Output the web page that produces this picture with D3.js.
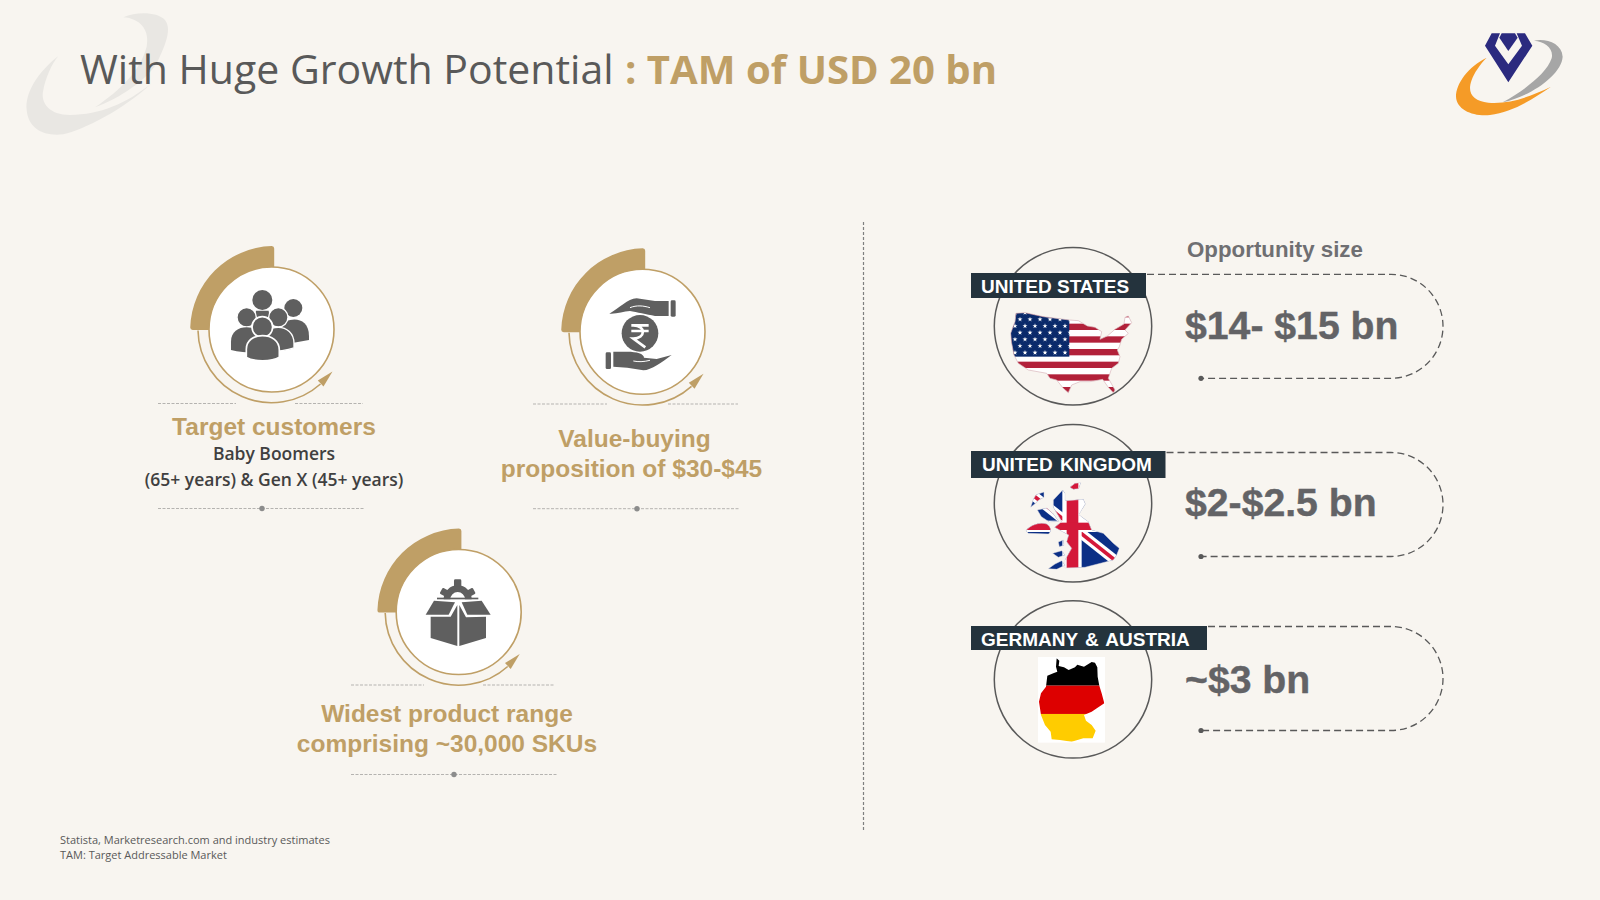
<!DOCTYPE html>
<html lang="en">
<head>
<meta charset="utf-8">
<title>TAM of USD 20 bn</title>
<script src="https://cdnjs.cloudflare.com/ajax/libs/d3/7.8.5/d3.min.js"></script>
<style>
html, body { margin: 0; padding: 0; background: #f8f5f0; }
svg { display: block; }
</style>
</head>
<body>
<div id="chart"></div>
<script>
// text and values
var titleGrey = "With Huge Growth Potential";
var titleGold = ": TAM of USD 20 bn";
var featureTitles = [["Target customers"], ["Value-buying", "proposition of $30-$45"], ["Widest product range", "comprising ~30,000 SKUs"]];
var featureNotes = [["Baby Boomers", "(65+ years) & Gen X (45+ years)"], [], []];
var marketNames = ["UNITED STATES", "UNITED KINGDOM", "GERMANY & AUSTRIA"];
var marketValues = ["$14- $15 bn", "$2-$2.5 bn", "~$3 bn"];
var opportunityLabel = "Opportunity size";
var footnotes = ["Statista, Marketresearch.com and industry estimates", "TAM: Target Addressable Market"];

// layout, kept apart from the values
var featureCx = [271.5, 642.5, 458.7];
var featureCy = [329.5, 331.8, 612];
var featureTextX = [[274], [634.5, 631.5], [447, 447]];
var featureTextY = [[435], [447, 477], [722, 751.5]];
var noteY = [460, 486];
var topDash = [[158, 236, 295, 363, 403.5], [533, 607, 668, 738, 404], [351, 424, 483, 555, 685]];
var lowDash = [[158, 365, 262, 508.5], [533, 740, 637, 508.7], [351, 557, 454, 774.5]];
var marketCy = [326.3, 503.3, 679.4];
var tagRight = [1146, 1165.5, 1207];
var tagTop = [273, 451, 626];
var tagBottom = [298, 478, 650];
var tagBase = [292.7, 471, 645.5];
var tagTextX = [981, 982, 981];
var tagWordGap = [0, 2, 2];
var pillTop = [274.3, 452.5, 626.5];
var valueBase = [339, 516, 693];

var gold = "#bf9f66", ink = "#5f5f5f", navy = "#24333d";

var svg = d3.select("#chart").append("svg").attr("width", 1600).attr("height", 900);
var defs = svg.append("defs");
svg.append("rect").attr("width", 1600).attr("height", 900).attr("fill", "#f8f5f0");

// watermark swoosh behind the title
var mark = svg.append("g").attr("transform", "translate(10,0) scale(0.3333)").attr("fill", "#e9e7e3");
mark.append("path").attr("d", "M145,168 C80,220 45,280 50,330 C55,385 100,410 160,403 C220,390 340,330 425,250 C350,310 270,345 180,345 C120,345 90,310 100,270 C105,240 125,190 145,168 Z");
mark.append("path").attr("d", "M340,52 C380,35 440,35 465,60 C485,85 470,130 440,190 C410,240 330,295 255,322 C330,270 390,215 410,140 C420,90 390,55 340,52 Z");

// title
svg.append("text").attr("x", 80).attr("y", 84)
  .attr("font-family", "'Open Sans'").attr("font-size", 41).attr("fill", "#595959")
  .text(titleGrey);
svg.append("text").attr("x", 625).attr("y", 84)
  .attr("font-family", "'Open Sans'").attr("font-weight", 700).attr("font-size", 40.1).attr("fill", gold)
  .text(titleGold);

// logo top right
var logo = svg.append("g").attr("transform", "translate(1450,25) scale(0.3333)");
logo.append("path").attr("fill", "#a6a6a6").attr("d", "M252,47 C290,40 335,55 338,95 C335,150 240,215 158,232 C225,195 290,145 305,100 C312,70 285,50 252,47 Z");
logo.append("path").attr("fill", "#f59b27").attr("d", "M110,98 C55,125 18,175 18,215 C20,255 70,275 120,270 C185,262 245,225 303,185 C240,215 180,238 115,233 C70,228 50,205 65,165 C72,145 90,118 110,98 Z");
logo.append("path").attr("fill", "#2b2a7f").attr("d", "M125,25 H150 L135,62 L175,118 L216,62 L200,25 H225 L247,62 L175,172 L105,62 Z");
logo.append("path").attr("fill", "#2b2a7f").attr("d", "M155,25 H195 L203,38 L175,78 L148,38 Z");

// divider
svg.append("line").attr("x1", 863.5).attr("x2", 863.5).attr("y1", 222).attr("y2", 830)
  .attr("stroke", "#7f7f7f").attr("stroke-width", 1.2).attr("stroke-dasharray", "3 2");

// left side: three feature badges
var badgeArc = d3.arc().innerRadius(55).outerRadius(84).startAngle(-Math.PI / 2).endAngle(0).cornerRadius(2.5);

var feature = svg.selectAll("g.feature").data(featureTitles).join("g").attr("class", "feature");

feature.each(function(lines, i) {
  var g = d3.select(this);
  var cx = featureCx[i], cy = featureCy[i];

  // thin ring running round to the arrow
  g.append("path").attr("fill", "none").attr("stroke", gold).attr("stroke-width", 1.6)
    .attr("d", "M" + (cx - 73.5) + "," + (cy + 1) + " A73.5,73.5 0 0 0 " + (cx + 49) + "," + (cy + 54.5));
  g.append("path").attr("fill", gold)
    .attr("d", "M" + (cx + 61) + "," + (cy + 42) + " l-14.7,9 l5.7,6 Z");

  g.append("path").attr("transform", "translate(" + (cx + 2.7) + "," + (cy + 0.5) + ")")
    .attr("d", badgeArc).attr("fill", gold);
  g.append("circle").attr("cx", cx).attr("cy", cy).attr("r", 62.5)
    .attr("fill", "#fff").attr("stroke", gold).attr("stroke-width", 1.6);

  // dashed rules above and below the text
  var td = topDash[i], ld = lowDash[i];
  [[td[0], td[1]], [td[2], td[3]]].forEach(function(p) {
    g.append("line").attr("x1", p[0]).attr("x2", p[1]).attr("y1", td[4]).attr("y2", td[4])
      .attr("stroke", "#b5b3b0").attr("stroke-width", 1).attr("stroke-dasharray", "3 1.5");
  });
  g.append("line").attr("x1", ld[0]).attr("x2", ld[1]).attr("y1", ld[3]).attr("y2", ld[3])
    .attr("stroke", "#b5b3b0").attr("stroke-width", 1).attr("stroke-dasharray", "3 1.5");
  g.append("circle").attr("cx", ld[2]).attr("cy", ld[3]).attr("r", 2.7).attr("fill", "#8c8c8c");

  g.selectAll("text.head").data(lines).join("text").attr("class", "head")
    .attr("x", function(d, j) { return featureTextX[i][j]; })
    .attr("y", function(d, j) { return featureTextY[i][j]; })
    .attr("text-anchor", "middle")
    .attr("font-family", "'Liberation Sans'").attr("font-weight", 700).attr("font-size", 24.5)
    .attr("fill", gold).text(function(d) { return d; });

  g.selectAll("text.note").data(featureNotes[i]).join("text").attr("class", "note")
    .attr("x", 274).attr("y", function(d, j) { return noteY[j]; })
    .attr("text-anchor", "middle")
    .attr("font-family", "'Open Sans'").attr("font-weight", 600).attr("font-size", 17.5)
    .attr("fill", "#404040").text(function(d) { return d; });
});

// people icon
var people = svg.append("g").attr("transform", "translate(130,230) scale(0.3333)").attr("fill", ink);
var bodyEdge = "#fff";
people.append("circle").attr("cx", 397).attr("cy", 210).attr("r", 30);
people.append("path").attr("d", "M378,242 H416 L420,270 H374 Z");
people.append("circle").attr("cx", 490).attr("cy", 234).attr("r", 27);
people.append("path").attr("d", "M450,290 C470,260 537,255 537,318 V330 L470,342 Z");
people.append("circle").attr("cx", 350).attr("cy", 262).attr("r", 29).attr("stroke", bodyEdge).attr("stroke-width", 4);
people.append("path").attr("d", "M303,360 V335 C303,305 325,292 350,292 C375,292 400,305 400,335 V368 C365,368 330,368 303,360 Z");
people.append("circle").attr("cx", 445).attr("cy", 262).attr("r", 29).attr("stroke", bodyEdge).attr("stroke-width", 4);
people.append("path").attr("d", "M395,330 C395,305 420,292 445,292 C470,292 492,310 492,340 V354 C470,362 440,365 410,365 Z").attr("stroke", bodyEdge).attr("stroke-width", 4);
people.append("circle").attr("cx", 397).attr("cy", 291).attr("r", 31).attr("stroke", bodyEdge).attr("stroke-width", 5);
people.append("path").attr("d", "M349,382 V358 C349,330 372,317 397,317 C425,317 448,332 448,360 V382 C425,396 370,396 349,382 Z").attr("stroke", bodyEdge).attr("stroke-width", 5);

// hands and rupee icon
var hands = svg.append("g").attr("transform", "translate(540,235) scale(0.3333)").attr("fill", ink);
hands.append("path").attr("d", "M208,236 C240,218 262,192 290,190 L345,198 L386,198 V243 L345,243 C320,238 290,232 270,228 C250,228 230,238 208,236 Z");
hands.append("path").attr("d", "M270,218 C290,210 310,212 330,218").attr("fill", "none").attr("stroke", "#fff").attr("stroke-width", 3);
hands.append("rect").attr("x", 392).attr("y", 196).attr("width", 15).attr("height", 49).attr("rx", 4);
hands.append("circle").attr("cx", 300).attr("cy", 295).attr("r", 55);
hands.append("path").attr("fill", "none").attr("stroke", "#fff").attr("stroke-width", 8)
  .attr("d", "M274,271 H326 M274,288 H326 M280,271 C318,271 318,311 280,311 L316,337");
hands.append("rect").attr("x", 197).attr("y", 352).attr("width", 16).attr("height", 50).attr("rx", 4);
hands.append("path").attr("d", "M220,350 L262,350 C290,350 312,356 312,368 L350,372 L395,360 C365,382 335,405 310,406 L262,398 L220,395 Z");
hands.append("path").attr("d", "M280,378 C295,381 310,381 330,376").attr("fill", "none").attr("stroke", "#fff").attr("stroke-width", 3);

// box and gear icon
var box = svg.append("g").attr("transform", "translate(360,510) scale(0.3333)").attr("fill", ink);
var gear = box.append("g").attr("transform", "translate(293,268)");
gear.append("path").attr("d", d3.arc().innerRadius(22).outerRadius(42).startAngle(-Math.PI / 2).endAngle(Math.PI / 2));
[-62, 62].forEach(function(a) {
  gear.append("rect").attr("x", -10).attr("y", -56).attr("width", 20).attr("height", 20).attr("rx", 3)
    .attr("transform", "rotate(" + a + ")");
});
gear.append("rect").attr("x", -11).attr("y", -60).attr("width", 22).attr("height", 22).attr("rx", 4);
gear.append("rect").attr("x", -62).attr("y", -5).attr("width", 124).attr("height", 5);
box.append("path").attr("d", "M197,314 L222,272 L285,277 L266,314 Z");
box.append("path").attr("d", "M305,277 L365,272 L392,314 L322,314 Z");
box.append("path").attr("d", "M212,320 L272,320 L292,285 V408 L212,384 Z");
box.append("path").attr("d", "M298,285 L318,322 L378,320 V384 L298,408 Z");

// right side: market circles, tags and dashed pills
var market = svg.selectAll("g.market").data(marketNames).join("g").attr("class", "market");

market.each(function(name, i) {
  var g = d3.select(this);
  var cy = marketCy[i], top = pillTop[i], bot = top + 104;

  g.append("circle").attr("cx", 1073).attr("cy", cy).attr("r", 78.7)
    .attr("fill", "none").attr("stroke", "#595959").attr("stroke-width", 1.5);

  g.append("path").attr("fill", "none").attr("stroke", "#595959").attr("stroke-width", 1.3)
    .attr("stroke-dasharray", "7 4")
    .attr("d", "M" + (tagRight[i] + 1) + "," + top + " H1391 A52,52 0 0 1 1391," + bot + " H1200");
  g.append("circle").attr("cx", 1201).attr("cy", bot).attr("r", 2.6).attr("fill", "#595959");

  g.append("rect").attr("x", 971).attr("y", tagTop[i])
    .attr("width", tagRight[i] - 971).attr("height", tagBottom[i] - tagTop[i]).attr("fill", navy);
  g.append("text").attr("x", tagTextX[i]).attr("y", tagBase[i])
    .attr("font-family", "'Liberation Sans'").attr("font-weight", 700).attr("font-size", 19)
    .attr("word-spacing", tagWordGap[i]).attr("fill", "#fff").text(name);

  g.append("text").attr("x", 1185).attr("y", valueBase[i])
    .attr("font-family", "'Liberation Sans'").attr("font-weight", 700).attr("font-size", 39.2)
    .attr("fill", "#636366").attr("stroke", "#636366").attr("stroke-width", 0.4).text(marketValues[i]);
});

svg.append("text").attr("x", 1187).attr("y", 257)
  .attr("font-family", "'Liberation Sans'").attr("font-weight", 700).attr("font-size", 22.3)
  .attr("fill", "#6f6f72").text(opportunityLabel);

// USA flag map
var usOutline = "M48,40 L75,38 L130,50 L208,60 L235,62 L262,78 L285,82 L305,95 L300,118 L322,108 L345,88 L372,72 L375,52 L385,48 L395,68 L375,90 L385,100 L365,118 L358,140 L352,150 L360,170 L355,190 L335,205 L325,235 L345,270 L340,278 L325,262 L308,238 L270,245 L240,245 L215,255 L205,278 L190,265 L170,240 L150,235 L140,220 L85,210 L55,190 L42,165 L35,130 L32,100 L45,65 Z";
defs.append("clipPath").attr("id", "usClip").append("path").attr("d", usOutline);
var us = svg.append("g").attr("transform", "translate(1000,300) scale(0.3333)");
var usFlag = us.append("g").attr("clip-path", "url(#usClip)");
usFlag.append("rect").attr("x", 25).attr("y", 30).attr("width", 380).attr("height", 255).attr("fill", "#fff");
usFlag.selectAll("rect.stripe").data(d3.range(0, 13, 2)).join("rect").attr("class", "stripe")
  .attr("x", 25).attr("y", function(d) { return 33 + d * 19; })
  .attr("width", 380).attr("height", 19).attr("fill", "#b2213a");
usFlag.append("rect").attr("x", 25).attr("y", 30).attr("width", 183).attr("height", 140).attr("fill", "#0a2a6b");
var star = d3.symbol().type(d3.symbolStar).size(70);
d3.range(7).forEach(function(r) {
  d3.range(6).forEach(function(c) {
    usFlag.append("path").attr("d", star).attr("fill", "#fff")
      .attr("transform", "translate(" + (45 + c * 30 + (r % 2) * 15) + "," + (38 + r * 20) + ")");
  });
});
us.append("path").attr("d", usOutline).attr("fill", "none").attr("stroke", "#d8b4ba").attr("stroke-width", 2);

// UK flag map
var ukShapes = [
  "M140,62 L190,58 L196,72 L176,104 L205,125 L215,150 L250,160 L280,190 L298,205 L290,225 L280,240 L195,262 L135,264 L135,240 L155,205 L140,185 L146,165 L104,142 L125,125 L118,112 L100,82 L100,60 L128,30 L135,40 L135,60 Z",
  "M150,22 L165,10 L182,8 L176,26 L160,28 Z",
  "M32,82 L40,58 L48,44 L72,36 L72,52 L56,60 L44,72 Z",
  "M52,90 L80,84 L100,102 L116,124 L88,126 L64,110 Z",
  "M18,152 C30,135 60,125 80,132 C95,142 95,155 85,162 L25,160 Z",
  "M98,220 L125,212 L135,225 L115,232 Z",
  "M85,266 L105,252 L125,242 L135,256 L110,268 Z",
  "M115,186 L130,180 L132,196 L118,200 Z"
];
defs.append("clipPath").attr("id", "ukClip").selectAll("path").data(ukShapes).join("path").attr("d", function(d) { return d; });
var uk = svg.append("g").attr("transform", "translate(1020,480) scale(0.3333)");
var ukFlag = uk.append("g").attr("clip-path", "url(#ukClip)");
ukFlag.append("rect").attr("width", 360).attr("height", 290).attr("fill", "#0b2f86");
ukFlag.append("path").attr("d", "M0,15 L360,300").attr("stroke", "#fff").attr("stroke-width", 30);
ukFlag.append("path").attr("d", "M0,15 L360,300").attr("stroke", "#d4183a").attr("stroke-width", 11);
ukFlag.append("rect").attr("x", 127).attr("y", 0).attr("width", 58).attr("height", 290).attr("fill", "#fff");
ukFlag.append("rect").attr("x", 175).attr("y", 50).attr("width", 35).attr("height", 75).attr("fill", "#fff");
ukFlag.append("rect").attr("x", 0).attr("y", 122).attr("width", 360).attr("height", 34).attr("fill", "#fff");
ukFlag.append("rect").attr("x", 140).attr("y", 0).attr("width", 35).attr("height", 290).attr("fill", "#d4183a");
ukFlag.append("rect").attr("x", 0).attr("y", 128).attr("width", 360).attr("height", 22).attr("fill", "#d4183a");
uk.selectAll("path.edge").data(ukShapes).join("path").attr("class", "edge").attr("d", function(d) { return d; })
  .attr("fill", "none").attr("stroke", "#dcdbe0").attr("stroke-width", 1.5);

// Germany flag map on its white card
var deOutline = "M290,745 L298,752 L296,768 L312,772 L326,780 L345,772 L352,764 L372,770 L395,756 L405,758 L412,772 L413,800 L418,827 L425,850 L433,880 L415,892 L395,905 L372,915 L378,932 L395,945 L407,962 L398,985 L370,985 L335,995 L300,990 L275,988 L272,965 L255,945 L243,915 L240,895 L237,875 L243,850 L258,830 L262,797 L280,790 L292,785 L288,770 Z";
defs.append("clipPath").attr("id", "deClip").append("path").attr("d", deOutline);
var de = svg.append("g").attr("transform", "translate(960,410) scale(0.3333)");
de.append("rect").attr("x", 234).attr("y", 741).attr("width", 201).attr("height", 257).attr("fill", "#fff");
var deFlag = de.append("g").attr("clip-path", "url(#deClip)");
deFlag.append("rect").attr("x", 234).attr("y", 741).attr("width", 201).attr("height", 86).attr("fill", "#000");
deFlag.append("rect").attr("x", 234).attr("y", 827).attr("width", 201).attr("height", 85).attr("fill", "#dd0000");
deFlag.append("rect").attr("x", 234).attr("y", 912).attr("width", 201).attr("height", 86).attr("fill", "#ffcc00");

// footnotes
svg.selectAll("text.foot").data(footnotes).join("text").attr("class", "foot")
  .attr("x", 60).attr("y", function(d, i) { return 844 + i * 15; })
  .attr("font-family", "'Open Sans'").attr("font-size", 11).attr("fill", "#595959")
  .text(function(d) { return d; });
</script>
</body>
</html>
